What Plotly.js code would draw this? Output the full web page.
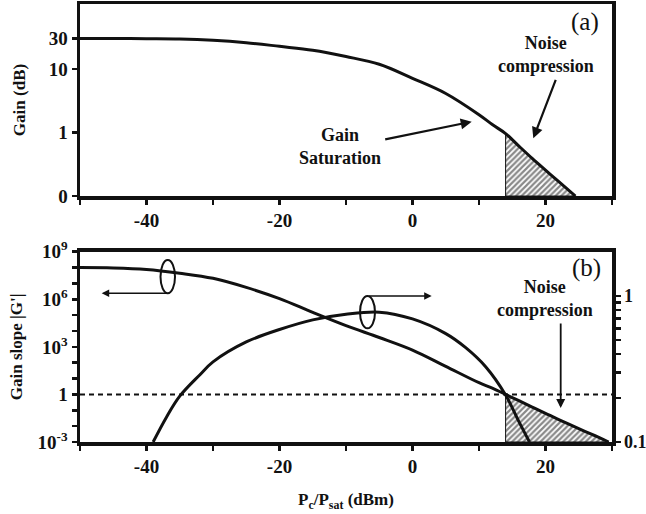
<!DOCTYPE html>
<html>
<head>
<meta charset="utf-8">
<script src="https://cdn.plot.ly/plotly-3.0.1.min.js"></script>
<style>html,body{margin:0;padding:0;background:#fff;}#chart{width:646px;height:514px;}</style>
</head>
<body>
<div id="chart"></div>
<script>
// ---- Data ----
const xTickVals = [-40, -20, 0, 20];
const xTickText = ['-40', '-20', '0', '20'];
const xMinorVals = [-50, -30, -10, 10, 30];

// Panel (a): gain (dB) vs Pc/Psat
const gainX  = [-50, -45, -40, -35, -30, -25, -20, -15, -10, -5, 0, 5, 10, 12, 14, 16, 18, 20, 22, 24.5];
const gainDb = [30, 30, 29.8, 29.5, 28.2, 25.8, 22.6, 19.6, 15.6, 11.8, 7.1, 4.1, 1.9, 1.33, 0.96, 0.61, 0.39, 0.255, 0.168, 0.1];
const gainTickVals = [0.1, 1, 10, 30];
const gainTickText = ['0', '1', '10', '30'];

// Panel (b): gain slope |G'| (left axis)
const slopeX = [-50, -45, -40, -35, -30, -25, -20, -15, -10, -5, 0, 5, 10, 12, 14, 16, 18, 20, 22.5, 25, 27, 29.5];
const slopeG = [1e8, 9.5e7, 7.6e7, 4.4e7, 2.1e7, 5.6e6, 1.1e6, 1.5e5, 2.2e4, 3.9e3, 630, 59, 5.5, 2.5, 1, 0.4, 0.16, 0.063, 0.021, 0.007, 0.003, 0.001];
const slopeTickVals = [1e-3, 1e-2, 1e-1, 1, 10, 100, 1e3, 1e4, 1e5, 1e6, 1e7, 1e8, 1e9];
const slopeTickText = ['<b>10<sup>-3</sup></b>', '', '', '<b>1</b>', '', '', '<b>10<sup>3</sup></b>', '', '', '<b>10<sup>6</sup></b>', '', '', '<b>10<sup>9</sup></b>'];

// Panel (b): right-axis curve
const respX = [-39, -37, -35, -32, -30, -25, -20, -15, -10, -5, 0, 5, 8, 11, 14, 16, 17.6];
const respR = [0.1, 0.148, 0.206, 0.288, 0.354, 0.485, 0.59, 0.687, 0.75, 0.776, 0.697, 0.553, 0.443, 0.328, 0.21, 0.138, 0.1];
const rightTickVals = [0.1, 0.2, 0.3, 0.4, 0.5, 0.6, 0.7, 0.8, 0.9, 1];
const rightTickText = ['<b>0.1</b>', '', '', '', '', '', '', '', '', '<b>1</b>'];

const noiseStart = 14;     // start of the noise-compression region
const refLevel = 1;        // dashed reference level of |G'|

// ---- Derived hatch polygons ----
function hatch(xs, ys, x0, floor) {
  const hx = [], hy = [];
  for (let i = 0; i < xs.length; i++) if (xs[i] >= x0) { hx.push(xs[i]); hy.push(ys[i]); }
  hx.push(hx[hx.length - 1], x0, x0);
  hy.push(floor, floor, hy[0]);
  return {hx, hy};
}
const hA = hatch(gainX, gainDb, noiseStart, 0.1);
const hB = hatch(slopeX, slopeG, noiseStart, 1e-3);
const bold = arr => arr.map(t => t === '' ? '' : (t.startsWith('<b>') ? t : '<b>' + t + '</b>'));

const BLACK = '#111';
const FONT = 'Liberation Serif';
const pattern = {shape: '/', size: 4, solidity: 0.55, fgcolor: BLACK, bgcolor: 'white', fillmode: 'overlay'};

const traces = [
  {x: hA.hx, y: hA.hy, xaxis: 'x', yaxis: 'y', mode: 'lines', fill: 'toself', fillcolor: 'white',
   fillpattern: pattern, line: {color: BLACK, width: 1}, hoverinfo: 'skip'},
  {x: gainX, y: gainDb, xaxis: 'x', yaxis: 'y', mode: 'lines', line: {color: BLACK, width: 3, shape: 'spline', smoothing: 1}},
  {x: hB.hx, y: hB.hy, xaxis: 'x2', yaxis: 'y2', mode: 'lines', fill: 'toself', fillcolor: 'white',
   fillpattern: pattern, line: {color: BLACK, width: 1}, hoverinfo: 'skip'},
  {x: slopeX, y: slopeG, xaxis: 'x2', yaxis: 'y2', mode: 'lines', line: {color: BLACK, width: 3, shape: 'spline', smoothing: 1}},
  {x: respX, y: respR, xaxis: 'x2', yaxis: 'y3', mode: 'lines', line: {color: BLACK, width: 3, shape: 'spline', smoothing: 1}}
];

const tickFont = {family: FONT, size: 19, color: BLACK};
const titleFont = {family: FONT, size: 17, color: BLACK};
const axBase = {showgrid: false, zeroline: false, showline: true, linewidth: 3.5, linecolor: BLACK,
  ticks: 'outside', ticklen: 5, tickwidth: 2.5, tickcolor: BLACK, tickfont: tickFont};
const minorX = {tickmode: 'array', tickvals: xMinorVals, ticks: 'outside', ticklen: 5, tickwidth: 2.5, tickcolor: BLACK};

// paper-coordinate helpers (plot area: x 80..612 px, y 4..442 px)
const px = v => (v - 80) / 532;
const py = v => (442 - v) / 438;

const annFont = {family: FONT, size: 18, color: BLACK};
const layout = {
  width: 646, height: 514,
  margin: {l: 80, r: 34, t: 4, b: 72},
  paper_bgcolor: 'white', plot_bgcolor: 'white',
  showlegend: false,
  font: {family: FONT, color: BLACK},
  xaxis: Object.assign({}, axBase, {domain: [0, 1], anchor: 'y', range: [-50, 30], mirror: true,
    tickmode: 'array', tickvals: xTickVals, ticktext: bold(xTickText), minor: minorX}),
  yaxis: Object.assign({}, axBase, {domain: [0.5616, 1], anchor: 'x', type: 'log', range: [-1, 2.02], mirror: true,
    tickmode: 'array', tickvals: gainTickVals, ticktext: bold(gainTickText),
    title: {text: '<b>Gain (dB)</b>', font: titleFont, standoff: 19}}),
  xaxis2: Object.assign({}, axBase, {domain: [0, 1], anchor: 'y2', range: [-50, 30], mirror: true,
    tickmode: 'array', tickvals: xTickVals, ticktext: bold(xTickText), minor: minorX,
    title: {text: '<b>P<sub>c</sub>/P<sub>sat</sub> (dBm)</b>', font: titleFont, standoff: 18}}),
  yaxis2: Object.assign({}, axBase, {domain: [0, 0.4345], anchor: 'x2', type: 'log', range: [-3, 9],
    tickmode: 'array', tickvals: slopeTickVals, ticktext: slopeTickText,
    title: {text: "<b>Gain slope |G'|</b>", font: titleFont, standoff: 11}}),
  yaxis3: Object.assign({}, axBase, {overlaying: 'y2', side: 'right', anchor: 'x2', type: 'log', range: [-1, 0.304],
    tickmode: 'array', tickvals: rightTickVals, ticktext: rightTickText,
    tickfont: {family: FONT, size: 18, color: BLACK}}),
  shapes: [
    {type: 'line', xref: 'x2 domain', yref: 'y2', x0: 0, x1: 1, y0: refLevel, y1: refLevel,
     line: {color: BLACK, width: 2, dash: '5px,4px'}},
    {type: 'circle', xref: 'paper', yref: 'paper', x0: px(160.5), x1: px(175), y0: py(293.3), y1: py(260),
     line: {color: BLACK, width: 2}},
    {type: 'circle', xref: 'paper', yref: 'paper', x0: px(360), x1: px(375), y0: py(328.3), y1: py(296),
     line: {color: BLACK, width: 2}}
  ],
  annotations: [
    {xref: 'paper', yref: 'paper', x: px(340), y: py(146.5), text: '<b>Gain<br>Saturation</b>', showarrow: false,
     font: annFont, align: 'center', xanchor: 'center', yanchor: 'middle'},
    {xref: 'paper', yref: 'paper', x: px(471.7), y: py(121.7), ax: -88, ay: 18, text: '', showarrow: true,
     arrowhead: 2, arrowsize: 1, arrowwidth: 2.2, arrowcolor: BLACK},
    {xref: 'paper', yref: 'paper', x: px(546), y: py(54), text: '<b>Noise<br>compression</b>', showarrow: false,
     font: annFont, align: 'center', xanchor: 'center', yanchor: 'middle'},
    {xref: 'paper', yref: 'paper', x: px(533.3), y: py(138.3), ax: 23, ay: -60, text: '', showarrow: true,
     arrowhead: 2, arrowsize: 1, arrowwidth: 2.2, arrowcolor: BLACK},
    {xref: 'paper', yref: 'paper', x: px(585), y: py(22), text: '(a)', showarrow: false,
     font: {family: FONT, size: 25, color: BLACK}, xanchor: 'center', yanchor: 'middle'},
    {xref: 'paper', yref: 'paper', x: px(586), y: py(268), text: '(b)', showarrow: false,
     font: {family: FONT, size: 25, color: BLACK}, xanchor: 'center', yanchor: 'middle'},
    {xref: 'paper', yref: 'paper', x: px(545), y: py(298), text: '<b>Noise<br>compression</b>', showarrow: false,
     font: annFont, align: 'center', xanchor: 'center', yanchor: 'middle'},
    {xref: 'paper', yref: 'paper', x: px(560.7), y: py(408), ax: 0, ay: -86, text: '', showarrow: true,
     arrowhead: 2, arrowsize: 1, arrowwidth: 1.8, arrowcolor: BLACK},
    {xref: 'paper', yref: 'paper', x: px(101.7), y: py(293.3), ax: 66, ay: 0, text: '', showarrow: true,
     arrowhead: 2, arrowsize: 1, arrowwidth: 1.5, arrowcolor: BLACK},
    {xref: 'paper', yref: 'paper', x: px(431.7), y: py(296), ax: -64, ay: 0, text: '', showarrow: true,
     arrowhead: 2, arrowsize: 1, arrowwidth: 1.5, arrowcolor: BLACK}
  ]
};

Plotly.newPlot('chart', traces, layout, {displayModeBar: false, staticPlot: true});
</script>
</body>
</html>
